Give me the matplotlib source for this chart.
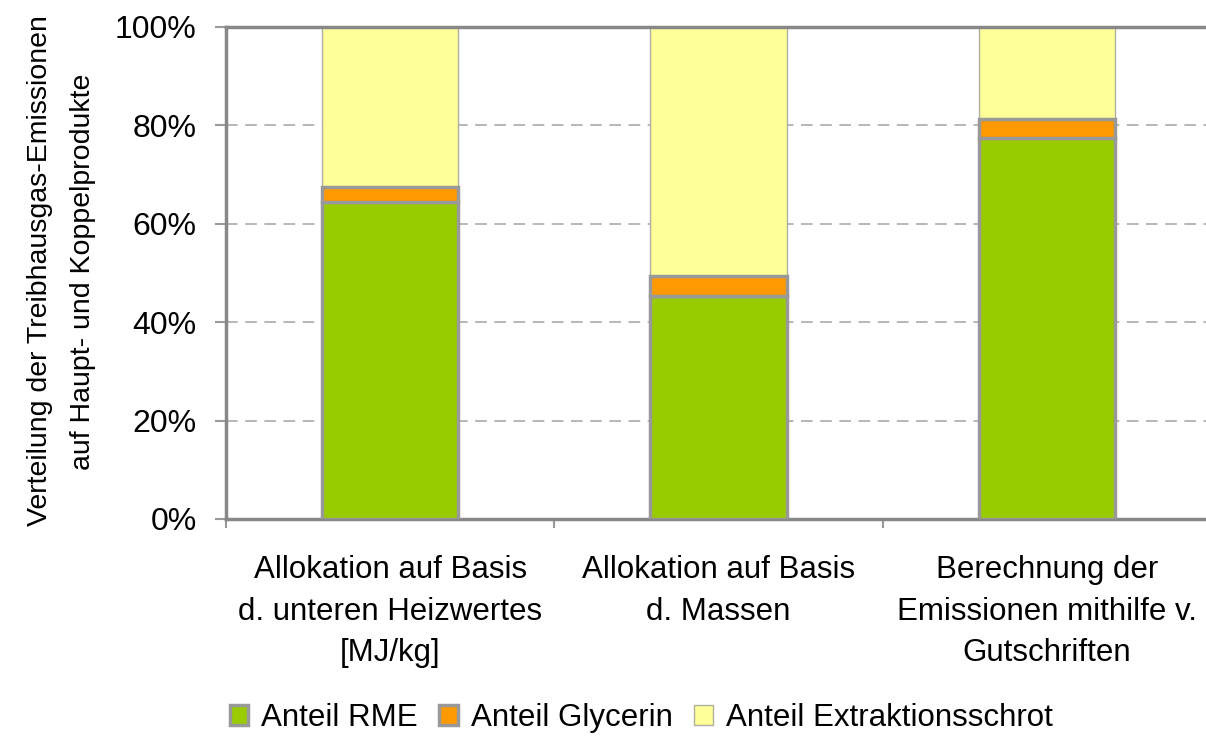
import numpy as np
import matplotlib.pyplot as plt
from matplotlib.ticker import FuncFormatter

plt.rcParams['font.family'] = ['Liberation Sans', 'DejaVu Sans']

categories = ['Allokation auf Basis\nd. unteren Heizwertes\n[MJ/kg]',
              'Allokation auf Basis\nd. Massen',
              'Berechnung der\nEmissionen mithilfe v.\nGutschriften']
rme = [64.4, 45.3, 77.4]
glycerin = [3.1, 4.1, 3.9]
schrot = [100 - r - g for r, g in zip(rme, glycerin)]

W, H = 1206, 755
fig = plt.figure(figsize=(W / 100, H / 100), dpi=100)
ax = fig.add_axes([226 / W, 1 - 519 / H, (1211 - 226) / W, (519 - 27) / H])

x = np.arange(len(categories))
bw = 0.415
edge = '#999999'
ax.bar(x, rme, bw, color='#99CC00', edgecolor=edge, linewidth=2.5, label='Anteil RME', zorder=3)
ax.bar(x, glycerin, bw, bottom=rme, color='#FF9900', edgecolor=edge, linewidth=2.5,
       label='Anteil Glycerin', zorder=3)
bot2 = [r + g for r, g in zip(rme, glycerin)]
ax.bar(x, schrot, bw, bottom=bot2, color='#FFFF99', edgecolor='#b0b0a0', linewidth=1,
       label='Anteil Extraktionsschrot', zorder=2)

ax.set_xlim(-0.5, 2.5)
ax.set_ylim(0, 100)
ax.set_yticks([0, 20, 40, 60, 80, 100])
ax.yaxis.set_major_formatter(FuncFormatter(lambda v, p: '%d%%' % v))
for g in [20, 40, 60, 80]:
    ax.axhline(g, color='#aaaaaa', linestyle=(0, (7, 4.5)), linewidth=1.2, zorder=1)

ax.set_xticks(x)
ax.set_xticklabels(categories, fontsize=22.5, linespacing=1.5)
ax.set_xticks([-0.5, 0.5, 1.5], minor=True)
ax.tick_params(axis='x', which='major', length=0, pad=26)
ax.tick_params(axis='x', which='minor', length=6.5, width=1.5, color='#999999', direction='out')
ax.tick_params(axis='y', length=8, width=1.5, color='#999999', labelsize=23, pad=13)

for s in ['left', 'bottom', 'top']:
    ax.spines[s].set_color('#888888')
    ax.spines[s].set_linewidth(2.5)
ax.spines['right'].set_visible(False)

fig.text(40 / W, 1 - 271 / H, 'Verteilung der Treibhausgas-Emissionen',
         rotation=90, ha='center', va='center', fontsize=20.5)
fig.text(83 / W, 1 - 272 / H, 'auf Haupt- und Koppelprodukte',
         rotation=90, ha='center', va='center', fontsize=20.5)

fig.legend(loc='center', bbox_to_anchor=(641 / W, 1 - 718 / H), ncol=3, frameon=False,
           fontsize=22.5, handlelength=0.6, handleheight=0.6, handletextpad=0.4,
           columnspacing=0.7)

fig.savefig('out.png', dpi=100)
